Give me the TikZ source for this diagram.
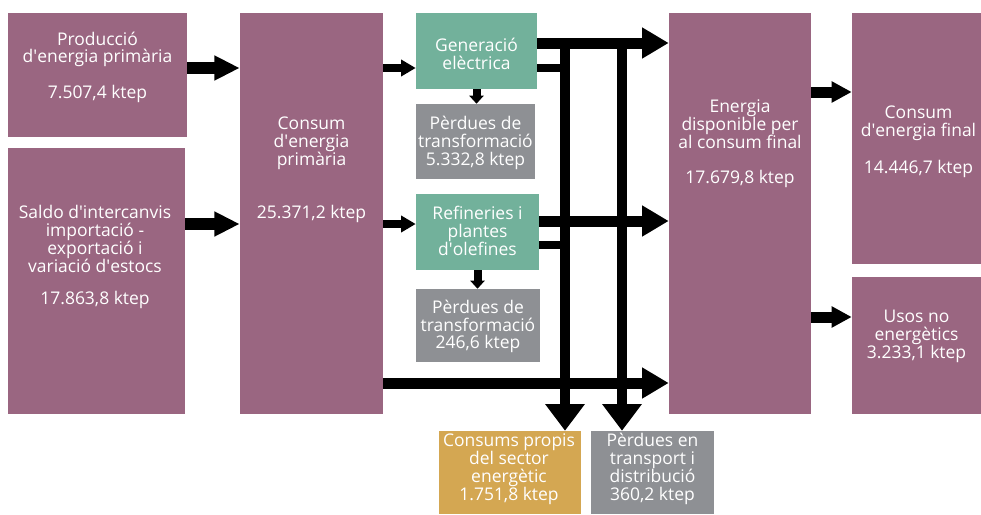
\documentclass[tikz,border=0pt]{standalone}
\usepackage{fontspec}
\setmainfont{Open Sans}
\usepackage{xcolor}
\usepackage{tikz}
\usetikzlibrary{arrows.meta,fit,calc}
\definecolor{Mauve}{HTML}{9A6681}
\definecolor{Sage}{HTML}{72B19B}
\definecolor{Slate}{HTML}{8E9094}
\definecolor{Ochre}{HTML}{D4A752}
\newcommand\boxfont{\fontsize{13.1}{13.4}\selectfont}
\newcommand\ap{\textquotesingle}
\tikzset{
  purplebox/.style={fill=Mauve,inner sep=0pt},
  greenbox/.style={fill=Sage,inner sep=0pt},
  graybox/.style={fill=Slate,inner sep=0pt},
  goldbox/.style={fill=Ochre,inner sep=0pt},
  boxtext/.style={text=white,align=center,font=\boxfont,inner sep=0pt},
  bigflow/.style={-{Triangle[length=20pt,width=22pt]},line width=8.25pt},
  medflow/.style={-{Triangle[length=19pt,width=17.5pt]},line width=9pt},
  sideflow/.style={-{Triangle[length=15pt,width=15pt]},line width=8.25pt},
  smallflow/.style={-{Triangle[length=11pt,width=12pt]},line width=6pt},
  tinyflow/.style={-{Triangle[length=6pt,width=10.5pt]},line width=6pt},
  downflow/.style={-{Triangle[length=20pt,width=28.5pt]},line width=7.5pt},
  stub/.style={line width=6pt}
}
\begin{document}
\begin{tikzpicture}[x=0.75pt,y=-0.75pt]
  \useasboundingbox (0,0) rectangle (981,514);
  % boxes
  \node[purplebox,fit={(8,13) (187,137)}] (prod) {};
  \node[purplebox,fit={(8,148) (185,414)}] (saldo) {};
  \node[purplebox,fit={(240,13) (383,414)}] (consum) {};
  \node[greenbox,fit={(416,13) (537,89)}] (gen) {};
  \node[graybox,fit={(416,104) (535,179)}] (perd1) {};
  \node[greenbox,fit={(416,194) (539,270)}] (ref) {};
  \node[graybox,fit={(416,289) (540,362)}] (perd2) {};
  \node[purplebox,fit={(669,13) (811,414)}] (disp) {};
  \node[purplebox,fit={(852,13) (981,264)}] (final) {};
  \node[purplebox,fit={(852,277) (981,414)}] (usos) {};
  \node[goldbox,fit={(439,431) (581,514)}] (propis) {};
  \node[graybox,fit={(591,431) (714,514)}] (transp) {};
  % texts
  \node[boxtext] (prodtxt) at (97.5,67) {Producció\\d\ap energia primària\\[13pt]7.507,4 ktep};
  \node[boxtext] (saldotxt) at (95,257) {Saldo d\ap intercanvis\\importació -\\exportació i\\variació d\ap estocs\\[10.5pt]17.863,8 ktep};
  \node[boxtext] (consumtxt) at (311.5,170) {Consum\\d\ap energia\\primària\\[26.5pt]25.371,2 ktep};
  \node[boxtext] (gentxt) at (476.5,54) {Generació\\elèctrica};
  \node[boxtext] (perd1txt) at (475.5,143) {Pèrdues de\\transformació\\5.332,8 ktep};
  \node[boxtext] (reftxt) at (477.5,231) {Refineries i\\plantes\\d\ap olefines};
  \node[boxtext] (perd2txt) at (478,326.5) {Pèrdues de\\transformació\\246,6 ktep};
  \node[boxtext] (disptxt) at (740,144) {Energia\\disponible per\\al consum final\\[13pt]17.679,8 ktep};
  \node[boxtext] (finaltxt) at (918.5,141.5) {Consum\\d\ap energia final\\[14.5pt]14.446,7 ktep};
  \node[boxtext] (usostxt) at (916.5,336) {Usos no\\energètics\\3.233,1 ktep};
  \node[boxtext] (propistxt) at (509,469) {Consums propis\\del sector\\energètic\\1.751,8 ktep};
  \node[boxtext] (transptxt) at (652.5,469) {Pèrdues en\\transport i\\distribució\\360,2 ktep};
  % rows and bars
  \coordinate (rowtop) at (0,43);
  \coordinate (rowgen) at (0,68);
  \coordinate (rowref) at (0,221);
  \coordinate (rowin) at (0,224);
  \coordinate (rowstub) at (0,245);
  \coordinate (rowlow) at (0,383);
  \coordinate (rowfinal) at (0,92);
  \coordinate (rowusos) at (0,317);
  \coordinate (barA) at (565,43);
  \coordinate (barB) at (622,43);
  % flows
  \draw[medflow] (prod.east |- rowgen) -- (consum.west |- rowgen);
  \draw[medflow] (saldo.east |- rowin) -- (consum.west |- rowin);
  \draw[smallflow] (consum.east |- rowgen) -- (gen.west |- rowgen);
  \draw[smallflow] (consum.east |- rowin) -- (ref.west |- rowin);
  \draw[tinyflow] (gen.south) -- (gen.south |- perd1.north);
  \draw[tinyflow] (ref.south) -- (ref.south |- perd2.north);
  \draw[bigflow] (gen.east |- rowtop) -- (disp.west |- rowtop);
  \draw[stub] (gen.east |- rowgen) -- (barA |- rowgen);
  \draw[bigflow] (ref.east |- rowref) -- (disp.west |- rowref);
  \draw[stub] (ref.east |- rowstub) -- (barA |- rowstub);
  \draw[bigflow] (consum.east |- rowlow) -- (disp.west |- rowlow);
  \draw[downflow] (barA) -- (barA |- propis.north);
  \draw[downflow] (barB) -- (barB |- transp.north);
  \draw[sideflow] (disp.east |- rowfinal) -- (final.west |- rowfinal);
  \draw[sideflow] (disp.east |- rowusos) -- (usos.west |- rowusos);
\end{tikzpicture}
\end{document}
